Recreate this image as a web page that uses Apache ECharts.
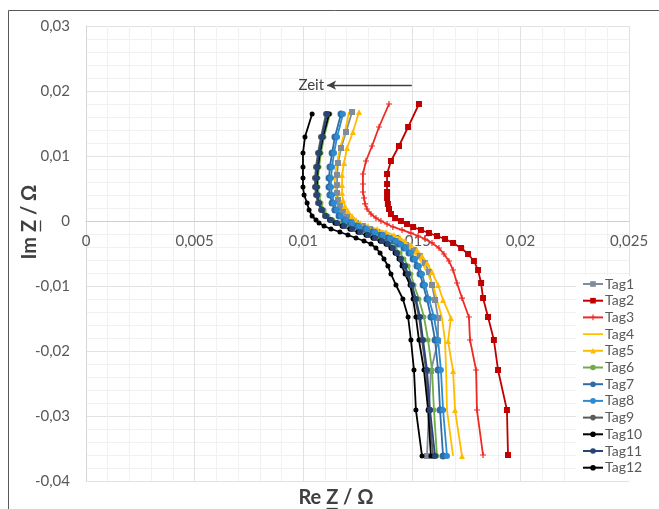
<!DOCTYPE html>
<html>
<head>
<meta charset="utf-8">
<script src="https://cdn.jsdelivr.net/npm/echarts@6/dist/echarts.min.js"></script>
<style>
html,body{margin:0;padding:0;background:#fff;}
#chart{width:659px;height:509px;}
</style>
</head>
<body>
<div id="chart"></div>
<script>
// Im Z values (shared frequency sets)
var imA = [0.0180, 0.01446, 0.01154, 0.00923, 0.00723, 0.00569, 0.00446, 0.00354, 0.00262, 0.00185, 0.00108, 0.00046, 0.0, -0.00046, -0.00092, -0.00138, -0.00185, -0.00231, -0.00277, -0.00338, -0.00415, -0.00508, -0.00615, -0.00754, -0.00954, -0.01185, -0.01477, -0.01831, -0.02292, -0.02908, -0.0360];
var imB = [0.01677, 0.01369, 0.01123, 0.00892, 0.00708, 0.00554, 0.00431, 0.00323, 0.00231, 0.00154, 0.00077, 0.00015, -0.00031, -0.00077, -0.00123, -0.00169, -0.00215, -0.00262, -0.00308, -0.00369, -0.00446, -0.00538, -0.00646, -0.00785, -0.00985, -0.01215, -0.01492, -0.01846, -0.02308, -0.02908, -0.03615];
var imC = [0.01646, 0.01292, 0.01046, 0.00831, 0.00662, 0.00523, 0.0040, 0.00277, 0.00169, 0.00077, 0.00015, -0.00031, -0.00077, -0.00123, -0.00169, -0.00215, -0.00262, -0.00308, -0.00354, -0.00415, -0.00492, -0.00585, -0.00692, -0.00815, -0.00985, -0.0120, -0.01477, -0.01831, -0.02292, -0.02908, -0.03615];

// Re Z values per day
var re1 = [0.01225, 0.01197, 0.01174, 0.01160, 0.01156, 0.01156, 0.01156, 0.01160, 0.01169, 0.01183, 0.01202, 0.01220, 0.01243, 0.01275, 0.01308, 0.01340, 0.01372, 0.01404, 0.01432, 0.01473, 0.01510, 0.01538, 0.01561, 0.01579, 0.01593, 0.01607, 0.01621, 0.01621, 0.01588, 0.01579, 0.01570];
var re2 = [0.01533, 0.01483, 0.01441, 0.01404, 0.01386, 0.01386, 0.01386, 0.01386, 0.01390, 0.01395, 0.01404, 0.01423, 0.01450, 0.01478, 0.01506, 0.01542, 0.01579, 0.01616, 0.01653, 0.01690, 0.01727, 0.01759, 0.01786, 0.01805, 0.01819, 0.01828, 0.01851, 0.01878, 0.01897, 0.01938, 0.01943];
var re3 = [0.01395, 0.01349, 0.01317, 0.01289, 0.01275, 0.01275, 0.01275, 0.01280, 0.01285, 0.01294, 0.01312, 0.01335, 0.01358, 0.01386, 0.01413, 0.01455, 0.01496, 0.01529, 0.01561, 0.01593, 0.01625, 0.01648, 0.01671, 0.01690, 0.01708, 0.01731, 0.01763, 0.01768, 0.01796, 0.01800, 0.01828];
var re4 = [0.01211, 0.01192, 0.01169, 0.01156, 0.01146, 0.01146, 0.01151, 0.01156, 0.01165, 0.01179, 0.01197, 0.01215, 0.01238, 0.01271, 0.01308, 0.01344, 0.01381, 0.01413, 0.01441, 0.01469, 0.01496, 0.01524, 0.01547, 0.01570, 0.01598, 0.01616, 0.01639, 0.01653, 0.01658, 0.01662, 0.01690];
var re5 = [0.01257, 0.01229, 0.01202, 0.01188, 0.01179, 0.01179, 0.01179, 0.01183, 0.01192, 0.01206, 0.01225, 0.01243, 0.01262, 0.01298, 0.01340, 0.01381, 0.01418, 0.01446, 0.01469, 0.01496, 0.01524, 0.01547, 0.01570, 0.01593, 0.01621, 0.01644, 0.01680, 0.01667, 0.01690, 0.01699, 0.01731];
var re6 = [0.01123, 0.01096, 0.01082, 0.01073, 0.01068, 0.01068, 0.01073, 0.01082, 0.01096, 0.01114, 0.01137, 0.01165, 0.01197, 0.01234, 0.01271, 0.01308, 0.01340, 0.01372, 0.01400, 0.01423, 0.01446, 0.01464, 0.01483, 0.01496, 0.01510, 0.01533, 0.01556, 0.01575, 0.01593, 0.01602, 0.01616];
var re7 = [0.01174, 0.01146, 0.01133, 0.01123, 0.01119, 0.01119, 0.01123, 0.01133, 0.01146, 0.01165, 0.01188, 0.01215, 0.01248, 0.01285, 0.01321, 0.01358, 0.01390, 0.01418, 0.01441, 0.01464, 0.01487, 0.01506, 0.01524, 0.01538, 0.01552, 0.01570, 0.01588, 0.01607, 0.01621, 0.01630, 0.01644];
var re8 = [0.01183, 0.01156, 0.01142, 0.01133, 0.01128, 0.01128, 0.01133, 0.01142, 0.01156, 0.01174, 0.01197, 0.01225, 0.01257, 0.01294, 0.01331, 0.01367, 0.01400, 0.01427, 0.01450, 0.01473, 0.01496, 0.01515, 0.01533, 0.01547, 0.01561, 0.01579, 0.01602, 0.01621, 0.01634, 0.01644, 0.01662];
var re9 = [0.01105, 0.01082, 0.01068, 0.01059, 0.01054, 0.01054, 0.01059, 0.01068, 0.01082, 0.01100, 0.01123, 0.01151, 0.01183, 0.01220, 0.01257, 0.01294, 0.01326, 0.01358, 0.01386, 0.01409, 0.01427, 0.01446, 0.01464, 0.01478, 0.01496, 0.01515, 0.01533, 0.01547, 0.01565, 0.01579, 0.01598];
var re10 = [0.01119, 0.01091, 0.01077, 0.01068, 0.01064, 0.01064, 0.01064, 0.01073, 0.01087, 0.01105, 0.01123, 0.01146, 0.01179, 0.01215, 0.01252, 0.01289, 0.01321, 0.01354, 0.01381, 0.01404, 0.01423, 0.01441, 0.01455, 0.01469, 0.01492, 0.01506, 0.01519, 0.01533, 0.01556, 0.01575, 0.01588];
var re11 = [0.01110, 0.01087, 0.01073, 0.01064, 0.01059, 0.01059, 0.01064, 0.01073, 0.01087, 0.01105, 0.01128, 0.01156, 0.01188, 0.01225, 0.01262, 0.01298, 0.01331, 0.01363, 0.01390, 0.01413, 0.01432, 0.01450, 0.01469, 0.01483, 0.01501, 0.01519, 0.01538, 0.01552, 0.01570, 0.01584, 0.01607];
var re12 = [0.01041, 0.01008, 0.00999, 0.00999, 0.00999, 0.00999, 0.01004, 0.01018, 0.01027, 0.01041, 0.01059, 0.01073, 0.01096, 0.01128, 0.01169, 0.01206, 0.01243, 0.01280, 0.01312, 0.01335, 0.01354, 0.01372, 0.01390, 0.01404, 0.01427, 0.01459, 0.01483, 0.01496, 0.01510, 0.01519, 0.01547];

var seriesNames = ['Tag1','Tag2','Tag3','Tag4','Tag5','Tag6','Tag7','Tag8','Tag9','Tag10','Tag11','Tag12'];
var reLists = [re1, re2, re3, re4, re5, re6, re7, re8, re9, re10, re11, re12];
var imLists = [imB, imA, imA, imB, imB, imC, imC, imC, imC, imC, imC, imC];

// annotation "Zeit" arrow (data coords)
var arrowFrom = [0.0150, 0.0209];
var arrowTo = [0.0111, 0.0209];

var FONT = 'Lato, "Open Sans", sans-serif';
var plusPath = 'path://M4,0h2v4h4v2h-4v4h-2v-4h-4v-2h4z';
var lineOnlyIcon = 'path://M0,0h0.01v0.01h-0.01z M0,2.6h20v1.8h-20z M0,7h0.01v0.01h-0.01z';
var styles = [
  {color:'#7f8c9a', symbol:'rect', size:6},
  {color:'#c00000', symbol:'rect', size:6},
  {color:'#ee2a24', symbol:plusPath, size:6},
  {color:'#ffc000', symbol:'none', size:0},
  {color:'#ffbb00', symbol:'triangle', size:6},
  {color:'#70ad47', symbol:'circle', size:5},
  {color:'#2e6da4', symbol:'circle', size:7},
  {color:'#2e8bd0', symbol:'circle', size:6},
  {color:'#5a5a5a', symbol:'circle', size:6},
  {color:'#000000', symbol:'circle', size:5},
  {color:'#264478', symbol:'circle', size:6},
  {color:'#000000', symbol:'circle', size:5}
];

function fmt(v){ return String(Number(v.toFixed(4))).replace('.', ','); }

var series = seriesNames.map(function(name, i){
  var re = reLists[i], im = imLists[i];
  var data = re.map(function(x, k){ return [x, im[k]]; });
  var st = styles[i];
  var s = {
    type:'line', name:name, data:data, smooth:false,
    symbol: st.symbol, symbolSize: st.size, showSymbol: st.symbol !== 'none',
    lineStyle:{color:st.color, width:1.8},
    itemStyle:{color:st.color},
    emphasis:{disabled:true}
  };
  if (i === 0) {
    s.markLine = {
      silent:true, animation:false,
      symbol:['none','arrow'], symbolSize:[7,9],
      lineStyle:{color:'#404040', width:1.3, type:'solid'},
      label:{show:true, position:'end', formatter:'Zeit', color:'#404040', fontSize:15, fontFamily:FONT, distance:3},
      data:[[{coord:arrowFrom},{coord:arrowTo}]]
    };
  }
  return s;
});

var legendData = seriesNames.map(function(name, i){
  return styles[i].symbol === 'none' ? {name:name, icon:lineOnlyIcon} : {name:name};
});

// axis titles with underlined Z
var titleFont = 'bold 20px Lato';
var mctx = document.createElement('canvas').getContext('2d');
mctx.font = titleFont;
function titleGroup(prefix, cx, cy, rot){
  var full = prefix + 'Z / \u03A9';
  var W = mctx.measureText(full).width;
  var pre = mctx.measureText(prefix).width;
  var zw = mctx.measureText('Z').width;
  var x0 = -W / 2;
  return {
    type:'group', x:cx, y:cy, rotation:rot, silent:true,
    children:[
      {type:'text', x:x0, y:0, style:{text:full, font:titleFont, fill:'#404040', align:'left', verticalAlign:'middle'}},
      {type:'line', shape:{x1:x0 + pre + 0.5, y1:10.5, x2:x0 + pre + zw - 0.5, y2:10.5}, style:{stroke:'#404040', lineWidth:1.3}}
    ]
  };
}

var chart = echarts.init(document.getElementById('chart'), null, {renderer:'canvas'});
chart.setOption({
  animation:false,
  backgroundColor:'#fff',
  grid:{left:86, right:30, top:26, bottom:28},
  xAxis:{
    type:'value', min:0, max:0.025, interval:0.005,
    position:'bottom', offset:-260,
    axisLine:{show:true, onZero:false, lineStyle:{color:'#cfcfcf', width:1}},
    axisTick:{show:false},
    axisLabel:{formatter:fmt, color:'#595959', fontSize:15, fontFamily:FONT, margin:13},
    splitLine:{show:true, lineStyle:{color:'#e2e2e2', width:1}},
    minorTick:{show:false, splitNumber:5},
    minorSplitLine:{show:true, lineStyle:{color:'#f1f1f1', width:1}}
  },
  yAxis:{
    type:'value', min:-0.04, max:0.03, interval:0.01,
    axisLine:{show:true, onZero:false, lineStyle:{color:'#d6d6d6', width:1}},
    axisTick:{show:false},
    axisLabel:{formatter:fmt, color:'#595959', fontSize:15, fontFamily:FONT, margin:16},
    splitLine:{show:true, lineStyle:{color:'#e2e2e2', width:1}},
    minorTick:{show:false, splitNumber:5},
    minorSplitLine:{show:true, lineStyle:{color:'#f1f1f1', width:1}}
  },
  legend:{
    orient:'vertical', left:576, top:276,
    data:legendData,
    backgroundColor:'#ffffff',
    padding:[1,12,6,6],
    itemWidth:20, itemHeight:7, itemGap:2.7,
    textStyle:{color:'#595959', fontSize:14, lineHeight:14, fontFamily:FONT, padding:[0,0,0,-3]},
    selectedMode:false
  },
  graphic:[
    {type:'rect', shape:{x:8.5, y:10.5, width:700, height:600}, style:{fill:'none', stroke:'#595959', lineWidth:1}, silent:true, z:100},
    titleGroup('Im ', 30, 222, Math.PI/2),
    titleGroup('Re ', 336, 498, 0)
  ],
  series:series
});
</script>
</body>
</html>
